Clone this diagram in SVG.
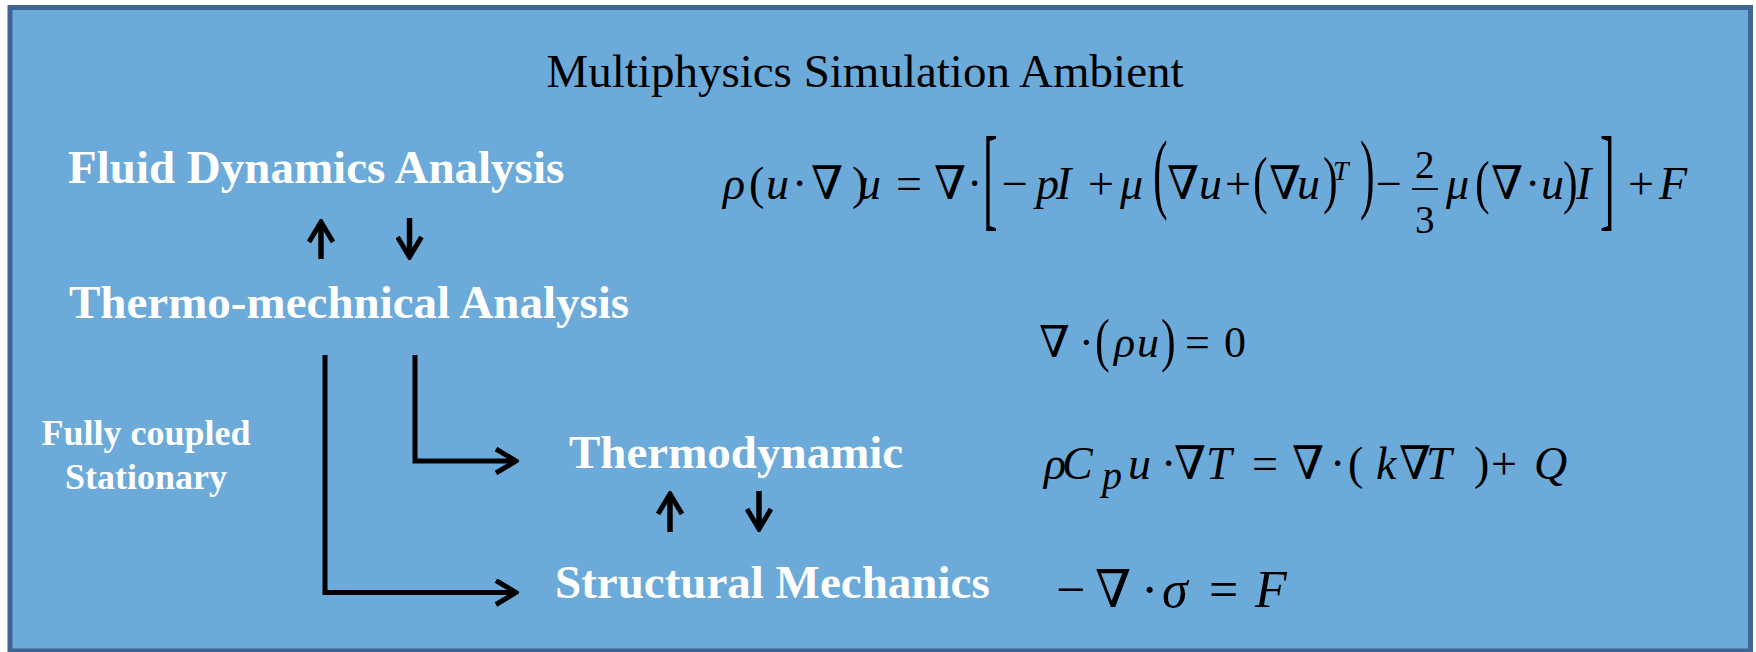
<svg xmlns="http://www.w3.org/2000/svg" width="1756" height="652" viewBox="0 0 1756 652">
<style>
.lbl{font-family:"Liberation Serif","Times New Roman",serif;font-weight:bold;fill:#ffffff}
.ttl{font-family:"Liberation Serif","Times New Roman",serif;fill:#000000}
.eq text{font-family:"Liberation Serif","DejaVu Serif",serif;fill:#000000}
.i{font-style:italic}
.conn{fill:none;stroke:#000000;stroke-width:5}
.arr{fill:none;stroke:#000000;stroke-width:5.5}
</style>
<defs>
<marker id="chev" viewBox="0 0 26 28" refX="23" refY="14" markerWidth="26" markerHeight="28" markerUnits="userSpaceOnUse" orient="auto">
<path d="M3,2 L23,14 L3,26" fill="none" stroke="#000000" stroke-width="5"/>
</marker>
</defs>
<rect id="frame" x="10" y="7.5" width="1740.5" height="643.5" fill="#6BAAD9" stroke="#3F6592" stroke-width="5"/>
<g id="title"><text class="ttl" x="865" y="87" font-size="47" text-anchor="middle">Multiphysics Simulation Ambient</text></g>
<g id="fluid"><text class="lbl" x="68" y="183" font-size="47">Fluid Dynamics Analysis</text></g>
<g id="thermomech"><text class="lbl" x="69" y="318" font-size="47">Thermo-mechnical Analysis</text></g>
<g id="coupled"><text class="lbl" x="146" y="445" font-size="36" text-anchor="middle">Fully coupled</text><text class="lbl" x="146" y="489" font-size="36" text-anchor="middle">Stationary</text></g>
<g id="thermodyn"><text class="lbl" x="569" y="468" font-size="47">Thermodynamic</text></g>
<g id="structural"><text class="lbl" x="555" y="598" font-size="47">Structural Mechanics</text></g>
<g id="connectors">
<path class="conn" d="M325,355 V592.5 H516" marker-end="url(#chev)"/>
<path class="conn" d="M415,355 V461 H516" marker-end="url(#chev)"/>
<path class="arr" d="M321,259 V222" marker-end="url(#chev)"/>
<path class="arr" d="M409.5,218 V257" marker-end="url(#chev)"/>
<path class="arr" d="M670,532 V494" marker-end="url(#chev)"/>
<path class="arr" d="M759,491 V529" marker-end="url(#chev)"/>
</g>
<g id="eq-momentum" class="eq">
<text y="199" font-size="46"><tspan class="i" x="723">ρ</tspan><tspan x="749">(</tspan><tspan class="i" x="766">u</tspan><tspan x="792">·</tspan><tspan x="811">∇</tspan><tspan x="852">)</tspan><tspan class="i" x="858">u</tspan><tspan x="896">=</tspan><tspan x="934">∇</tspan><tspan x="967">·</tspan><tspan x="1002">−</tspan><tspan class="i" x="1036">p</tspan><tspan class="i" x="1056">I</tspan><tspan x="1088">+</tspan><tspan class="i" x="1120">μ</tspan><tspan x="1167">∇</tspan><tspan class="i" x="1199">u</tspan><tspan x="1225">+</tspan><tspan x="1269">∇</tspan><tspan class="i" x="1297">u</tspan><tspan x="1376">−</tspan><tspan class="i" x="1446">μ</tspan><tspan x="1491">∇</tspan><tspan x="1525">·</tspan><tspan class="i" x="1541">u</tspan><tspan class="i" x="1576">I</tspan><tspan x="1628">+</tspan><tspan class="i" x="1659">F</tspan></text>
<text font-size="44" transform="translate(983,215.6) scale(1,2.575)">[</text>
<text font-size="44" transform="translate(1600,215.6) scale(1,2.575)">]</text>
<text font-size="44" transform="translate(1153,202) scale(1,2)">(</text>
<text font-size="44" transform="translate(1360,202) scale(1,2)">)</text>
<text font-size="44" transform="translate(1253,201) scale(1,1.44)">(</text>
<text font-size="44" transform="translate(1323,201) scale(1,1.44)">)</text>
<text font-size="44" transform="translate(1475,202) scale(1,1.33)">(</text>
<text font-size="44" transform="translate(1563,202) scale(1,1.33)">)</text>
<text class="i" x="1333" y="180" font-size="28">T</text>
<text x="1415" y="178" font-size="39">2</text>
<text x="1415" y="233" font-size="39">3</text>
<line x1="1412" y1="189" x2="1438" y2="189" stroke="#000000" stroke-width="1.8"/>
</g>
<g id="eq-continuity" class="eq">
<text y="357" font-size="44"><tspan x="1039">∇</tspan><tspan x="1079">·</tspan><tspan class="i" x="1114">ρ</tspan><tspan class="i" x="1137">u</tspan><tspan x="1185">=</tspan><tspan x="1224">0</tspan></text>
<text font-size="44" transform="translate(1095,360) scale(1,1.35)">(</text>
<text font-size="44" transform="translate(1161,360) scale(1,1.35)">)</text>
</g>
<g id="eq-heat" class="eq">
<text y="479" font-size="46"><tspan class="i" x="1044">ρ</tspan><tspan class="i" x="1062">C</tspan><tspan class="i" x="1128">u</tspan><tspan x="1161">·</tspan><tspan x="1174">∇</tspan><tspan class="i" x="1206">T</tspan><tspan x="1252">=</tspan><tspan x="1292">∇</tspan><tspan x="1330">·</tspan><tspan x="1348">(</tspan><tspan class="i" x="1376">k</tspan><tspan x="1399">∇</tspan><tspan class="i" x="1426">T</tspan><tspan x="1474">)</tspan><tspan x="1491">+</tspan><tspan class="i" x="1534">Q</tspan></text>
<text class="i" x="1102" y="489" font-size="40">p</text>
</g>
<g id="eq-solid" class="eq">
<text y="607" font-size="52"><tspan x="1056">−</tspan><tspan x="1095">∇</tspan><tspan x="1141">·</tspan><tspan class="i" x="1162">σ</tspan><tspan x="1209">=</tspan><tspan class="i" x="1255">F</tspan></text>
</g>
</svg>
